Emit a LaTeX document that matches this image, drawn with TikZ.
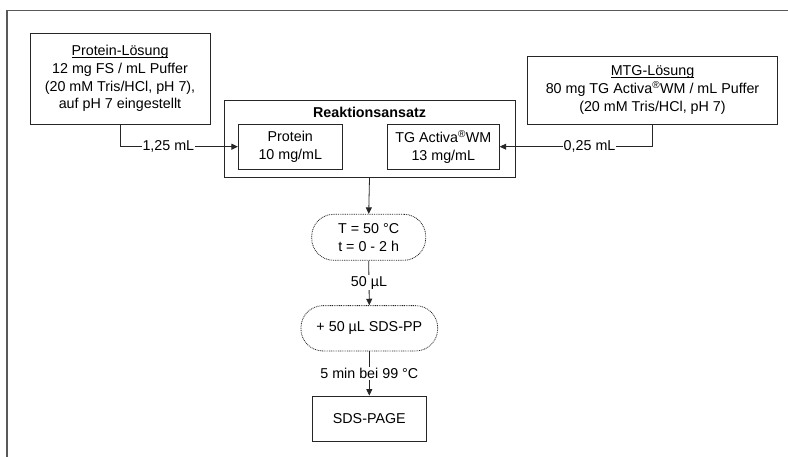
\documentclass[tikz,border=0pt]{standalone}
\usepackage{fontspec}
\setmainfont{Liberation Sans}
\usetikzlibrary{arrows.meta}
\newcommand\myul[1]{\setbox0\hbox{#1}\rlap{\rule[-1.6pt]{\wd0}{0.7pt}}\box0}
\begin{document}
\begin{tikzpicture}[x=1pt,y=-1pt,
  txt/.style={font=\fontsize{14.3}{17.7}\selectfont, align=center},
  box/.style={txt, draw=black!85, line width=0.8pt, inner sep=0pt},
  pill/.style={box, dash pattern=on 0.9pt off 0.9pt, rounded corners=22pt},
  arr/.style={draw=black!85, line width=0.8pt, -{Triangle[length=6.5pt,width=6pt]}},
  lbl/.style={txt, fill=white, inner sep=1pt}]
\useasboundingbox (0,0) rectangle (788,457);
\draw[line width=1.3pt, black!65] (7,457) -- (7,10.5) -- (788,10.5);

\node[box, minimum width=180, minimum height=91] (pl) at (120,78.5)
  {\myul{Protein-Lösung}\\12 mg FS / mL Puffer\\(20 mM Tris/HCl, pH 7),\\auf pH 7 eingestellt};
\node[box, minimum width=291, minimum height=77.7] (re) at (369.5,138.9) {};
\node[txt, font=\fontsize{14.3}{17.7}\selectfont\bfseries] (ret) at (369.5,112.3) {Reaktionsansatz};
\node[box, minimum width=104, minimum height=44.7] (pr) at (290.3,146.7) {Protein\\10 mg/mL};
\node[box, minimum width=112, minimum height=44.7] (tg) at (443.3,146.7) {TG Activa\textsuperscript{®}WM\\13 mg/mL};
\node[box, minimum width=249.6, minimum height=68] (mtg) at (652.5,90)
  {\myul{MTG-Lösung}\\80 mg TG Activa\textsuperscript{®}WM / mL Puffer\\(20 mM Tris/HCl, pH 7)};
\node[pill, minimum width=114, minimum height=46] (p1) at (368.7,237.3) {T = 50 °C\\t = 0 - 2 h};
\node[pill, minimum width=136.7, minimum height=45.3] (p2) at (369.3,328.3) {+ 50 µL SDS-PP};
\node[box, minimum width=113.3, minimum height=45] (sds) at (369.3,418.5) {SDS-PAGE};

\draw[arr] (pl.south) |- (pr.west) node[lbl, pos=0.705] {1,25 mL};
\draw[arr] (mtg.south) |- (tg.east) node[lbl, pos=0.706] {0,25 mL};
\draw[arr] (re.south) -- (p1.north);
\draw[arr] (p1.south) -- node[lbl] {50 µL} (p2.north);
\draw[arr] (p2.south) -- node[lbl] {5 min bei 99 °C} (sds.north);
\end{tikzpicture}
\end{document}
